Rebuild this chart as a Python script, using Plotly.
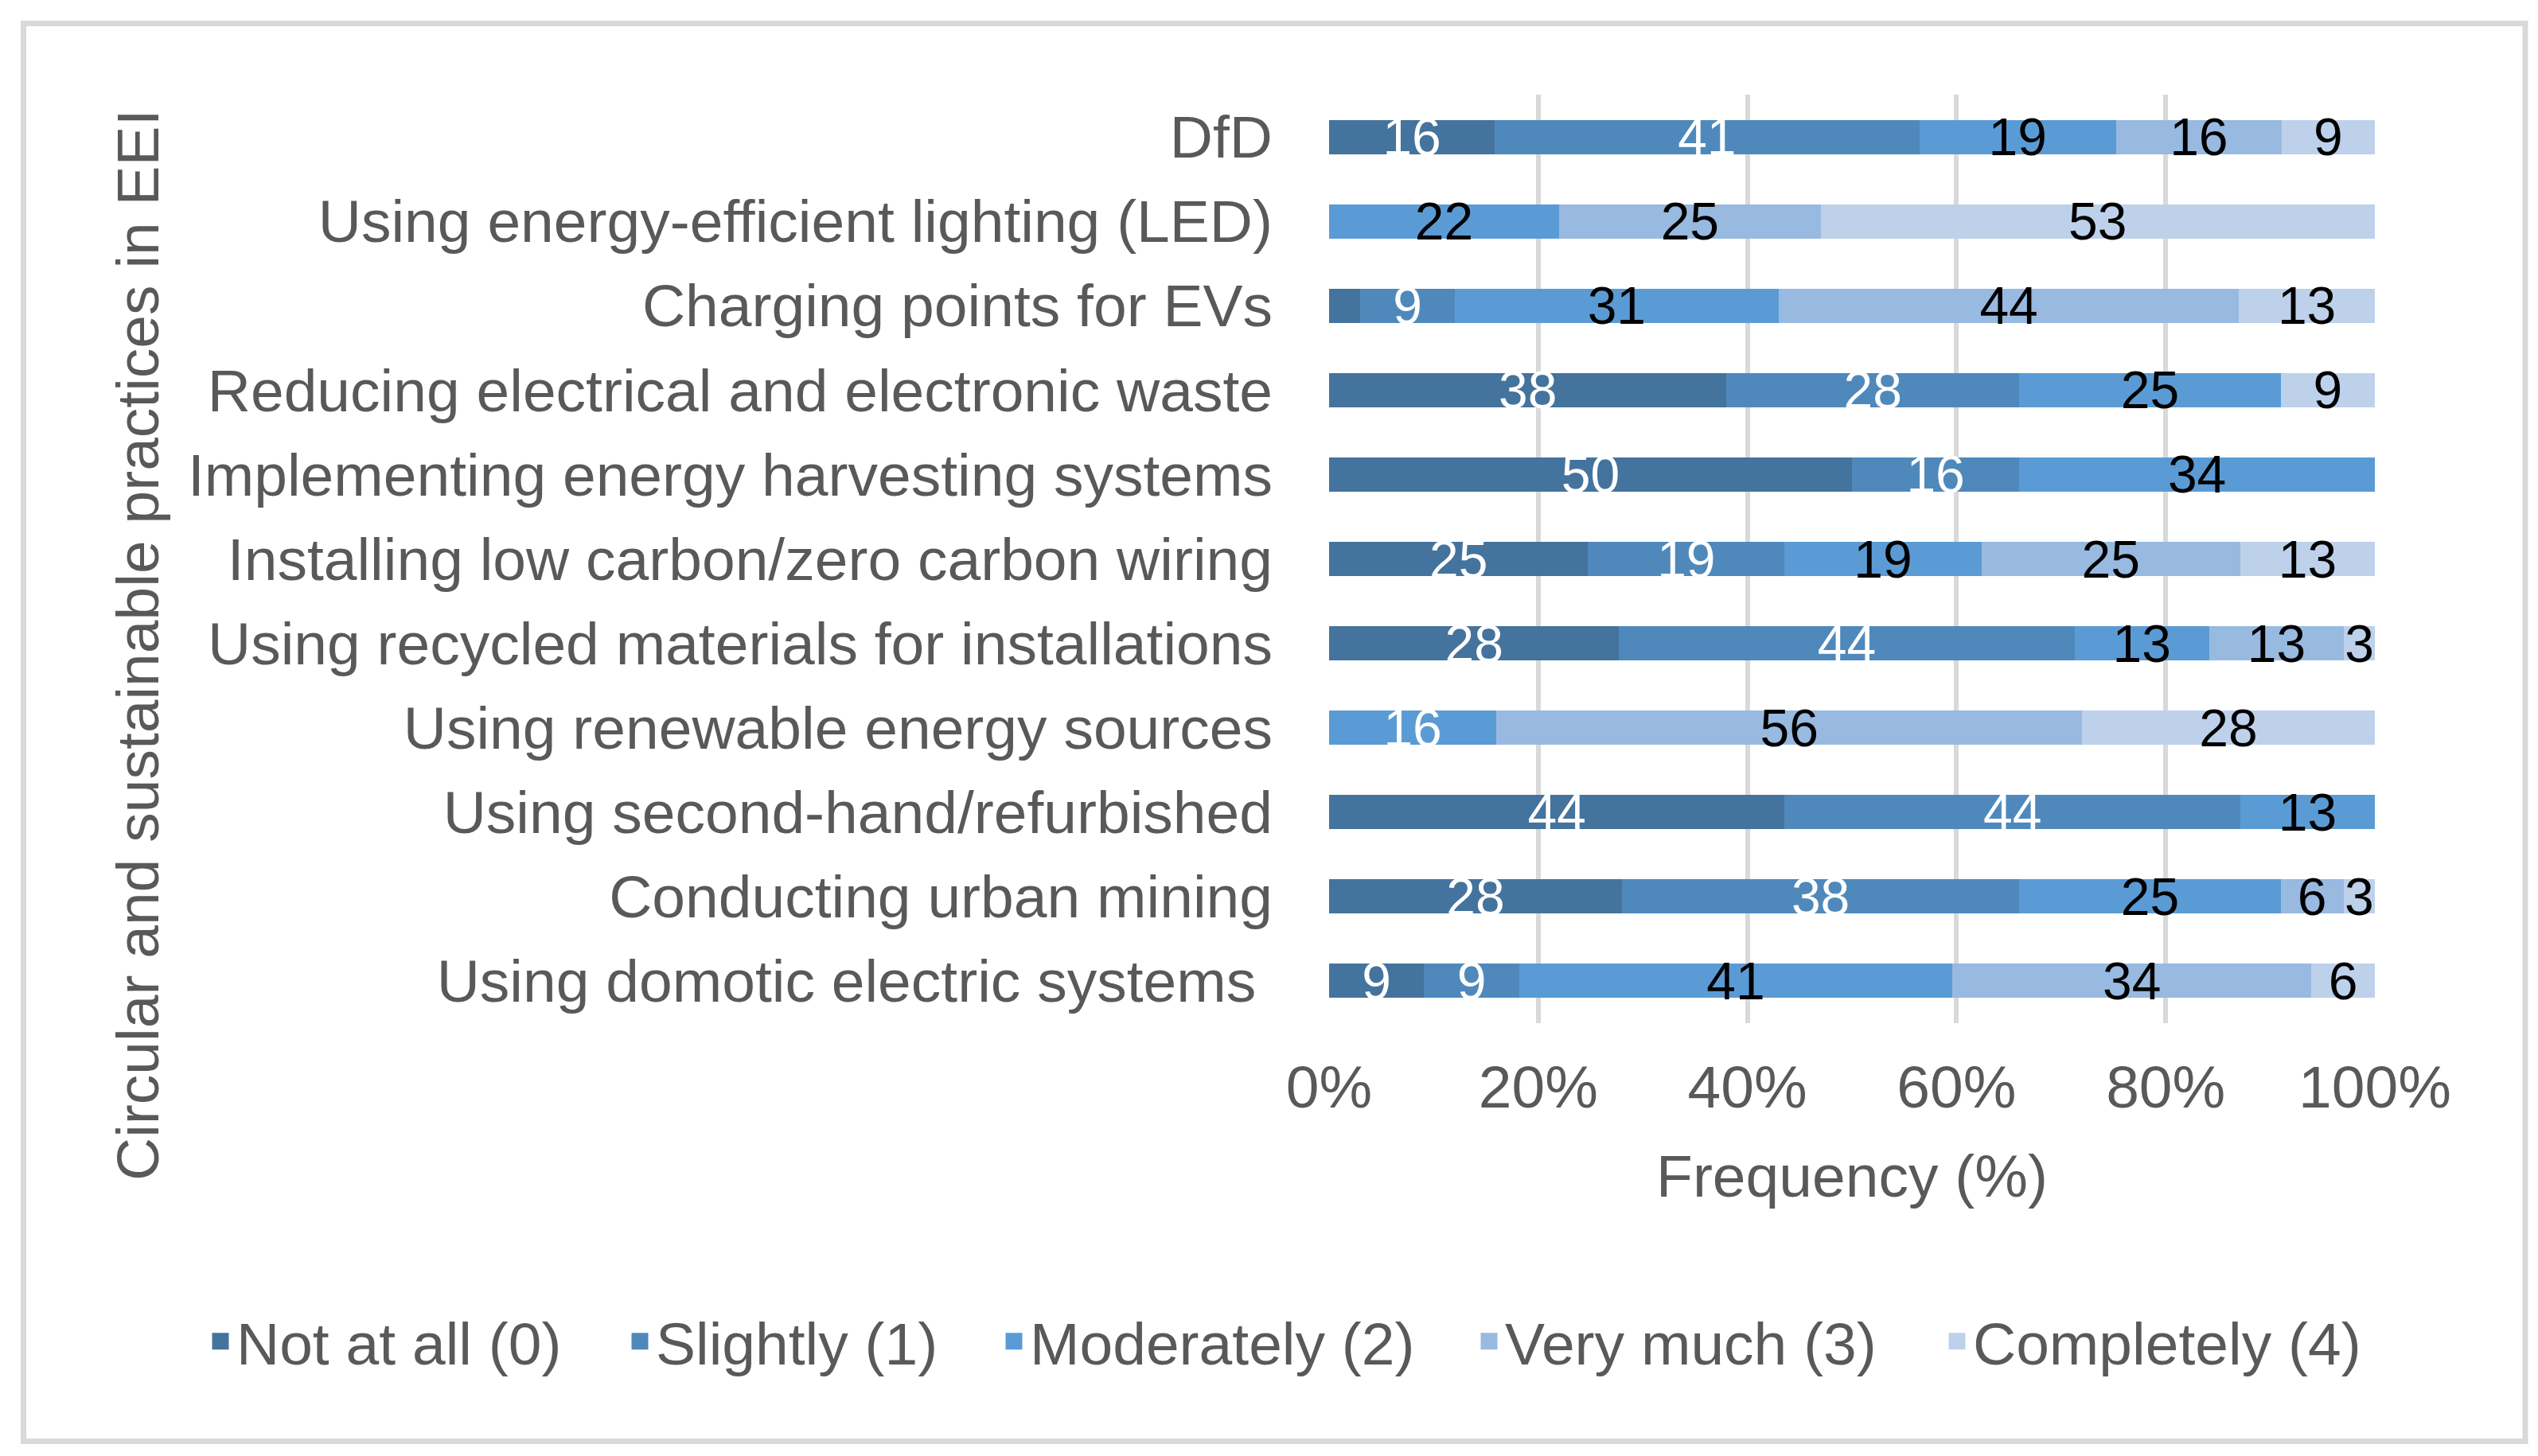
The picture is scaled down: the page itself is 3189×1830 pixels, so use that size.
import plotly.graph_objects as go

categories = [
    "DfD",
    "Using energy-efficient lighting (LED)",
    "Charging points for EVs",
    "Reducing electrical and electronic waste",
    "Implementing energy harvesting systems",
    "Installing low carbon/zero carbon wiring",
    "Using recycled materials for installations",
    "Using renewable energy sources",
    "Using second-hand/refurbished",
    "Conducting urban mining",
    "Using domotic electric systems ",
]

series_names = ["Not at all (0)", "Slightly (1)", "Moderately (2)", "Very much (3)", "Completely (4)"]

not_at_all = [16, 0, 3, 38, 50, 25, 28, 0, 44, 28, 9]
slightly = [41, 0, 9, 28, 16, 19, 44, 0, 44, 38, 9]
moderately = [19, 22, 31, 25, 34, 19, 13, 16, 13, 25, 41]
very_much = [16, 25, 44, 0, 0, 25, 13, 56, 0, 6, 34]
completely = [9, 53, 13, 9, 0, 13, 3, 28, 0, 3, 6]

# labels hidden in the original for these (category index, series index)
hidden_labels = [(2, 0)]
# labels drawn in white although their series uses black labels
white_labels = [(7, 2)]

x_ticks = [0, 20, 40, 60, 80, 100]

colors = ["#44739D", "#4F89BC", "#5B9BD5", "#98B9E0", "#BED1EB"]
label_colors = ["#FFFFFF", "#FFFFFF", "#000000", "#000000", "#000000"]

FONT = "Liberation Sans, Arial, sans-serif"
GREY = "#595959"
FS = 75

all_series = [not_at_all, slightly, moderately, very_much, completely]

W, H = 3189, 1830
L, R, T, B = 1662, 3189 - 2976, 111, 1830 - 1278
pw = W - L - R
ph = H - T - B

def px_to_paper_x(px):
    return (px - L) / pw

def px_to_paper_y(py):
    return (H - B - py) / ph

legend_ids = ["legend", "legend2", "legend3", "legend4", "legend5"]
legend_left_px = [249, 776, 1246, 1843, 2431]

fig = go.Figure()
for si, (name, vals) in enumerate(zip(series_names, all_series)):
    texts = []
    tcols = []
    for ci, v in enumerate(vals):
        if v == 0 or (ci, si) in hidden_labels:
            texts.append("")
        else:
            texts.append(str(v))
        tcols.append("#FFFFFF" if (ci, si) in white_labels else label_colors[si])
    fig.add_trace(go.Bar(
        y=categories,
        x=vals,
        orientation="h",
        name=name,
        marker=dict(color=colors[si], line=dict(width=0)),
        text=texts,
        textposition="inside",
        insidetextanchor="middle",
        textangle=0,
        textfont=dict(family=FONT, size=66, color=tcols),
        showlegend=False,
        hoverinfo="x+y+name",
    ))

# legend entries (larger square swatches), one legend box per entry
for si, name in enumerate(series_names):
    fig.add_trace(go.Scatter(
        x=[None], y=[None], mode="markers", name=name,
        legend=legend_ids[si],
        marker=dict(symbol="square", size=16, color=colors[si],
                    line=dict(width=5, color=colors[si])),
    ))

legend_layouts = {}
for lid, lx in zip(legend_ids, legend_left_px):
    legend_layouts[lid] = dict(
        orientation="h",
        x=px_to_paper_x(lx),
        xanchor="left",
        y=px_to_paper_y(1678),
        yanchor="middle",
        font=dict(family=FONT, size=FS, color=GREY),
        bgcolor="rgba(0,0,0,0)",
    )

fig.update_layout(
    width=W, height=H,
    margin=dict(l=L, r=R, t=T, b=B, pad=0),
    barmode="stack",
    barnorm="percent",
    bargap=0.594,
    paper_bgcolor="white",
    plot_bgcolor="white",
    font=dict(family=FONT, size=FS, color=GREY),
    uniformtext=dict(minsize=66, mode="show"),
    xaxis=dict(
        range=[0, 100],
        tickvals=x_ticks,
        ticktext=[f"{v}%" for v in x_ticks],
        showgrid=True,
        gridcolor="#D9D9D9",
        gridwidth=6,
        zeroline=False,
        showline=False,
        ticks="",
        ticklabelstandoff=30,
        tickfont=dict(family=FONT, size=FS, color=GREY),
        title=dict(text="Frequency (%)", standoff=44,
                   font=dict(family=FONT, size=FS, color=GREY)),
        fixedrange=True,
    ),
    yaxis=dict(
        autorange="reversed",
        showgrid=False,
        zeroline=False,
        showline=False,
        ticks="",
        ticklabelstandoff=70,
        tickfont=dict(family=FONT, size=FS, color=GREY),
        fixedrange=True,
    ),
    annotations=[dict(
        text="Circular and sustainable practices in EEI",
        textangle=-90,
        xref="paper", yref="paper",
        x=px_to_paper_x(165), y=px_to_paper_y(803),
        xanchor="center", yanchor="middle",
        showarrow=False,
        font=dict(family=FONT, size=FS, color=GREY),
    )],
    shapes=[dict(
        type="rect", xref="paper", yref="paper",
        x0=px_to_paper_x(21.5), x1=px_to_paper_x(3165),
        y0=px_to_paper_y(1803.5), y1=px_to_paper_y(21.5),
        line=dict(color="#D9D9D9", width=7),
        fillcolor="rgba(0,0,0,0)",
        layer="below",
    )],
    **legend_layouts,
)

fig.write_html("out.html")
